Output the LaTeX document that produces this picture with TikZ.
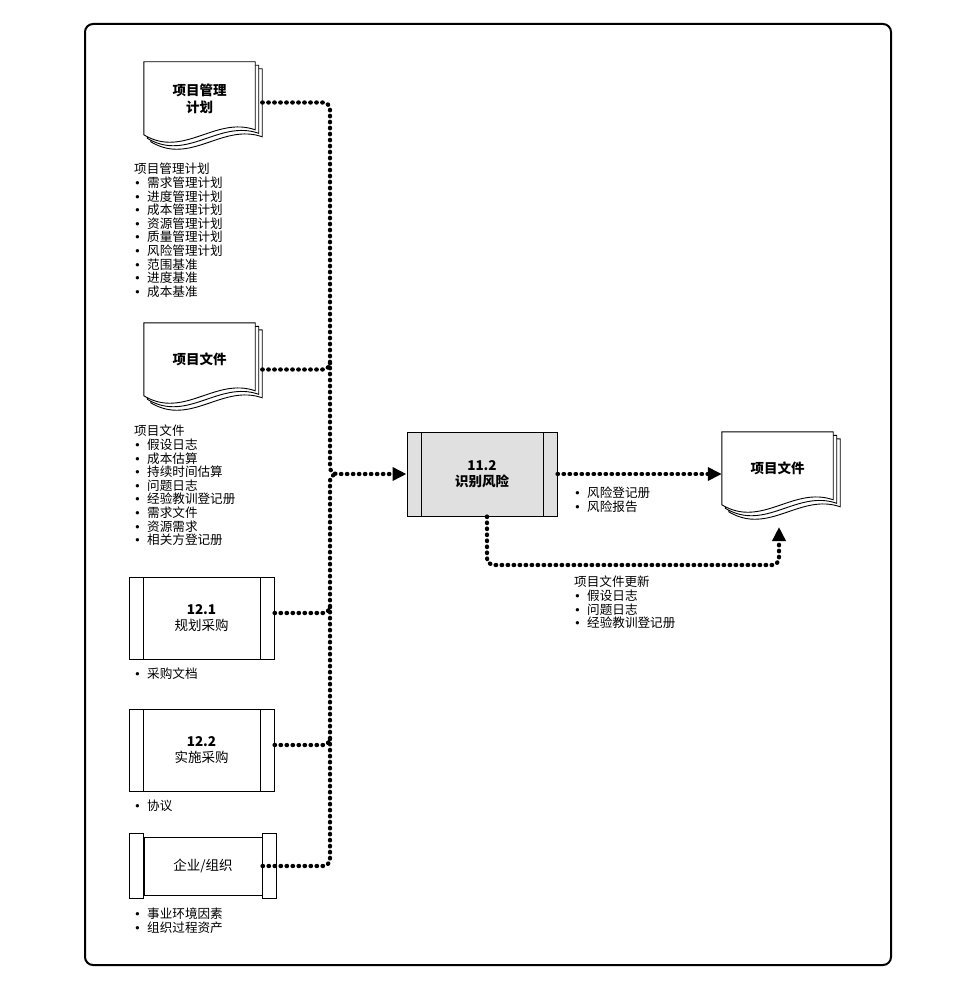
\documentclass[tikz,border=0pt]{standalone}
\usepackage{fontspec}
\setmainfont{Noto Sans CJK SC}
\newfontfamily\symfont{DejaVu Sans}
\usetikzlibrary{arrows.meta,positioning,backgrounds}

\tikzset{
  flow/.style={line width=4.2pt, dash pattern=on 0.6pt off 5.4pt, line cap=round, rounded corners=7pt},
  tip/.style={-{Triangle[length=14pt,width=13pt]}},
  docnode/.style={minimum width=111pt, minimum height=73pt, inner sep=0pt, align=center,
    font=\bfseries\fontsize{13.5}{17}\selectfont},
  procbox/.style={draw, line width=1pt, minimum width=145pt, minimum height=82pt, inner sep=0pt,
    align=center, font=\fontsize{13.5}{15.5}\selectfont,
    path picture={
      \draw[line width=1pt] ([xshift=14pt]path picture bounding box.north west) -- ([xshift=14pt]path picture bounding box.south west)
                            ([xshift=-14pt]path picture bounding box.north east) -- ([xshift=-14pt]path picture bounding box.south east);
    }},
  inlist/.style={anchor=north west, inner sep=0pt, align=left, font=\fontsize{12.6}{13.6}\selectfont},
}
\newcommand{\bul}{\makebox[13pt][l]{\symfont\fontsize{11.5}{13.6}\selectfont •}}
% stack of three pages behind a document node
\newcommand{\docpile}[1]{%
  \begin{pgfonlayer}{background}
    \foreach \d in {7,3.5,0}
      \draw[line width=0.9pt, fill=white]
        ([shift={(\d pt,-\d pt)}]#1.north west) -- ([shift={(\d pt,-\d pt)}]#1.north east)
        -- ([shift={(\d pt,-\d pt-68pt)}]#1.north east)
        .. controls +(-40,-14) and +(40,24) .. ([shift={(\d pt,-\d pt-73pt)}]#1.north west) -- cycle;
  \end{pgfonlayer}}

\begin{document}
\begin{tikzpicture}[x=1pt, y=-1pt]
  \useasboundingbox (0,0) rectangle (960,990);
  \draw[line width=2pt, rounded corners=8pt] (85,24) rectangle (891,965);

  % inputs
  \node[docnode] (pmp) at (199.5,98.5) {项目管理\\计划};
  \docpile{pmp}
  \node[inlist] (pmplist) at (134,163) {项目管理计划\\\bul 需求管理计划\\\bul 进度管理计划\\\bul 成本管理计划\\\bul 资源管理计划\\\bul 质量管理计划\\\bul 风险管理计划\\\bul 范围基准\\\bul 进度基准\\\bul 成本基准};

  \node[docnode] (pdoc) at (199.5,359.5) {项目文件};
  \docpile{pdoc}
  \node[inlist] (pdoclist) at (134,425) {项目文件\\\bul 假设日志\\\bul 成本估算\\\bul 持续时间估算\\\bul 问题日志\\\bul 经验教训登记册\\\bul 需求文件\\\bul 资源需求\\\bul 相关方登记册};

  \node[procbox] (plan) at (201.5,618) {\textbf{12.1}\\规划采购};
  \node[inlist] (planlist) at (134,668) {\bul 采购文档};

  \node[procbox] (conduct) at (201.5,750) {\textbf{12.2}\\实施采购};
  \node[inlist] (conductlist) at (134,800) {\bul 协议};

  \node[draw, line width=1pt, minimum width=118pt, minimum height=58pt, font=\fontsize{13.5}{15.5}\selectfont] (eef) at (203,866) {企业/组织};
  \draw[line width=1pt, fill=white] ([yshift=3pt]eef.north west) rectangle ([xshift=-14pt,yshift=-3pt]eef.south west);
  \draw[line width=1pt, fill=white] ([yshift=3pt]eef.north east) rectangle ([xshift=14pt,yshift=-3pt]eef.south east);
  \node[inlist] (eeflist) at (134,908) {\bul 事业环境因素\\\bul 组织过程资产};

  % process
  \node[procbox, fill=black!12, minimum width=150pt, minimum height=84pt, font=\bfseries\fontsize{13.5}{16}\selectfont] (risk) at (482,474) {11.2\\识别风险};
  \coordinate (jn) at (330,474);

  % outputs
  \node[docnode] (outdoc) at (777.5,468.5) {项目文件};
  \docpile{outdoc}
  \node[inlist] (outlist) at (574,487) {\bul 风险登记册\\\bul 风险报告};
  \node[inlist] (updlist) at (574,576) {项目文件更新\\\bul 假设日志\\\bul 问题日志\\\bul 经验教训登记册};
  \coordinate (updturn) at (779,565);
  \coordinate (updtip) at (779,527);

  % connectors
  \draw[flow, tip] ([xshift=7pt,yshift=-4pt]pmp.east) -| (jn) -- (risk.west);
  \draw[flow] (eef.east) -| (jn) -- ([xshift=8pt]jn);
  \draw[flow] ([xshift=7pt,yshift=-10pt]pdoc.east) -| ([yshift=-8pt]pdoc.east -| jn);
  \draw[flow] ([yshift=5pt]plan.east) -| ([yshift=8pt]plan.east -| jn);
  \draw[flow] ([yshift=5pt]conduct.east) -| ([yshift=8pt]conduct.east -| jn);
  \draw[flow, tip] (risk.east) -- (risk.east -| outdoc.west);
  \draw[flow, tip] ([xshift=5pt]risk.south) |- (updturn) -- (updtip);
\end{tikzpicture}
\end{document}
